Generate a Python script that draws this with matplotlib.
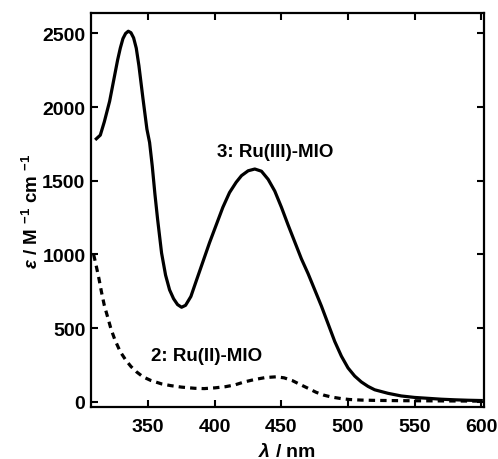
import matplotlib
matplotlib.use("Agg")
import matplotlib.pyplot as plt

# spectra
wl_iii = [311, 314, 317, 321, 324, 327, 329, 331, 333, 335, 337, 339, 341, 343,
          346, 349, 351, 353, 355, 357, 360, 363, 366, 369, 372, 375, 378, 382,
          386, 391, 396, 401, 406, 411, 416, 420, 425, 430, 435, 440, 445, 450,
          455, 460, 465, 470, 475, 480, 485, 490, 495, 500, 505, 510, 515, 520,
          530, 540, 550, 560, 570, 580, 590, 600]
eps_iii = [1785, 1810, 1900, 2040, 2180, 2320, 2400, 2465, 2500, 2515, 2505, 2470,
           2400, 2280, 2060, 1850, 1760, 1600, 1410, 1240, 1010, 860, 760, 700,
           660, 642, 655, 715, 820, 950, 1080, 1200, 1320, 1420, 1490, 1535, 1568,
           1580, 1565, 1510, 1430, 1320, 1200, 1085, 970, 870, 760, 650, 530, 410,
           310, 230, 175, 135, 105, 82, 58, 40, 30, 24, 18, 14, 11, 9]

wl_ii = [309, 311, 313, 315, 317, 320, 322, 325, 329, 333, 337, 341, 346, 352,
         360, 367, 375, 385, 392, 400, 408, 415, 422, 430, 438, 446, 452, 458,
         464, 470, 476, 482, 488, 495, 501, 510, 520, 540, 560, 580, 600]
eps_ii = [1000, 920, 835, 740, 655, 560, 495, 420, 340, 285, 240, 205, 170, 145,
          122, 110, 100, 92, 90, 95, 103, 115, 135, 152, 165, 170, 163, 145, 118,
          92, 65, 45, 32, 22, 16, 12, 10, 8, 7, 6, 5]

x_ticks = [350, 400, 450, 500, 550, 600]
y_ticks = [0, 500, 1000, 1500, 2000, 2500]

plt.rcParams["font.family"] = ["Liberation Sans", "DejaVu Sans"]
plt.rcParams["font.weight"] = "bold"
plt.rcParams["mathtext.fontset"] = "custom"
plt.rcParams["mathtext.rm"] = "Liberation Sans:bold"
plt.rcParams["mathtext.it"] = "Liberation Sans:italic:bold"
plt.rcParams["mathtext.bf"] = "Liberation Sans:bold"

fig = plt.figure(figsize=(4.98, 4.60), dpi=100)
ax = fig.add_axes([0.1827, 0.113, 0.789, 0.857])

ax.plot(wl_iii, eps_iii, color="black", lw=2.3, solid_joinstyle="round")
ax.plot(wl_ii, eps_ii, color="black", lw=2.3, dashes=(2.0, 1.6))

ax.text(445, 1700, "3: Ru(III)-MIO", fontsize=13.5, fontweight="bold",
        ha="center", va="center")
ax.text(394, 312, "2: Ru(II)-MIO", fontsize=13.5, fontweight="bold",
        ha="center", va="center")

ax.set_xlim(307, 602)
ax.set_ylim(-35, 2640)
ax.set_xticks(x_ticks)
ax.set_yticks(y_ticks)
ax.tick_params(direction="in", length=5, width=1.5, top=True, right=True,
               labelsize=14, pad=4)
ax.tick_params(axis="x", pad=8)
for lab in ax.get_xticklabels() + ax.get_yticklabels():
    lab.set_fontweight("bold")
for sp in ax.spines.values():
    sp.set_linewidth(1.6)

ax.set_xlabel(r"$\lambda$ / nm", fontsize=14, fontweight="bold", labelpad=5)
ax.set_ylabel(r"$\varepsilon$ / M $^{\mathbf{-1}}$ cm $^{\mathbf{-1}}$",
              fontsize=13.5, fontweight="bold", labelpad=0)

fig.savefig("out.png", dpi=100)
